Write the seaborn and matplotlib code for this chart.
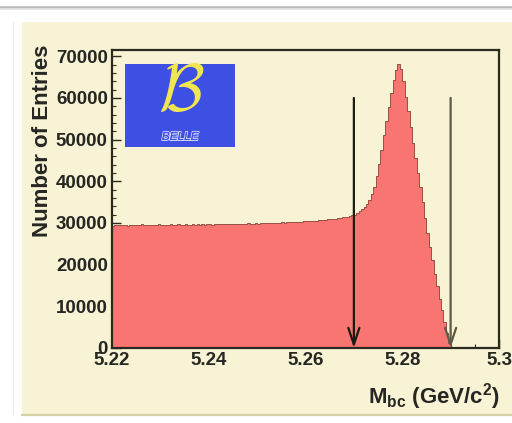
import numpy as np
import pandas as pd
import matplotlib
matplotlib.use("Agg")
import matplotlib.pyplot as plt
import seaborn as sns
from matplotlib.patches import Rectangle
from matplotlib.lines import Line2D
from matplotlib.ticker import FixedLocator, MultipleLocator
import matplotlib.patheffects as pe

# Beam-constrained mass histogram, 0.5 MeV bins from 5.220 to 5.300 GeV/c^2
mbc_low = 5.22
mbc_high = 5.30
entries = [
    # 5.2200 - 5.2250
    29300, 29550, 29400, 29600, 29450, 29500, 29350, 29550, 29600, 29450,
    # 5.2250 - 5.2300
    29500, 29400, 29650, 29500, 29550, 29400, 29600, 29500, 29450, 29650,
    # 5.2300 - 5.2350
    29550, 29500, 29600, 29450, 29700, 29550, 29500, 29650, 29600, 29550,
    # 5.2350 - 5.2400
    29650, 29500, 29600, 29700, 29550, 29650, 29600, 29750, 29600, 29650,
    # 5.2400 - 5.2450
    29700, 29600, 29750, 29650, 29700, 29800, 29650, 29700, 29750, 29700,
    # 5.2450 - 5.2500
    29800, 29700, 29750, 29850, 29750, 29800, 29900, 29800, 29850, 29900,
    # 5.2500 - 5.2550
    29850, 29950, 29900, 30000, 29950, 30050, 30000, 30100, 30050, 30100,
    # 5.2550 - 5.2600
    30150, 30100, 30200, 30150, 30250, 30200, 30300, 30250, 30350, 30400,
    # 5.2600 - 5.2650
    30400, 30450, 30500, 30450, 30550, 30600, 30650, 30700, 30750, 30850,
    # 5.2650 - 5.2700
    30900, 31000, 31050, 31150, 31250, 31350, 31450, 31550, 31650, 31800,
    # 5.2700 - 5.2750
    31900, 32300, 32800, 33300, 33900, 34500, 35600, 37000, 38700, 41200,
    # 5.2750 - 5.2800
    44200, 47500, 51000, 54500, 57900, 61200, 64200, 66700, 68100, 67000,
    # 5.2800 - 5.2850
    64000, 60300, 56800, 53000, 49100, 45500, 42000, 38700, 35000, 31200,
    # 5.2850 - 5.2900
    27600, 24300, 21000, 17800, 14800, 11800, 9000, 6300, 3600, 1200,
    # 5.2900 - 5.3000
    0, 0, 0, 0, 0, 0, 0, 0, 0, 0,
    0, 0, 0, 0, 0, 0, 0, 0, 0, 0,
]

# Signal-region cut markers
cut_positions = [5.27, 5.29]
cut_colors = ["#1c1a14", "#5b5a48"]
arrow_top = 60000

xtick_values = [5.22, 5.24, 5.26, 5.28, 5.30]
xtick_labels = ["5.22", "5.24", "5.26", "5.28", "5.3"]
ytick_values = [0, 10000, 20000, 30000, 40000, 50000, 60000, 70000]
ytick_labels = ["0", "10000", "20000", "30000", "40000", "50000", "60000", "70000"]

sns.set_style("ticks")
plt.rcParams["font.family"] = ["Liberation Sans", "DejaVu Sans"]
plt.rcParams["font.weight"] = "bold"
plt.rcParams["mathtext.fontset"] = "custom"
plt.rcParams["mathtext.rm"] = "Liberation Sans:bold"
plt.rcParams["mathtext.it"] = "Liberation Sans:bold"
plt.rcParams["mathtext.bf"] = "Liberation Sans:bold"

panel = "#f8f3d5"
fill_color = "#f87571"
edge_color = "#8a4035"
frame_color = "#2a2a1e"
text_color = "#262622"

W, H = 512, 423
fig = plt.figure(figsize=(W / 100, H / 100), dpi=100)
fig.patch.set_facecolor("white")

# Canvas panel and its borders
fig.add_artist(Rectangle((22 / W, 1 - 414 / H), (512 - 22) / W, (414 - 22) / H,
                         transform=fig.transFigure, facecolor=panel,
                         edgecolor="none", zorder=-5))
fig.add_artist(Line2D([22 / W, 1], [1 - 415 / H] * 2, transform=fig.transFigure,
                      color="#d6d1a4", lw=1.6, zorder=-4))
fig.add_artist(Line2D([0, 1], [1 - 7 / H] * 2, transform=fig.transFigure,
                      color="#b8b8b8", lw=1.8, zorder=-4))
fig.add_artist(Line2D([0, 1], [1 - 9.5 / H] * 2, transform=fig.transFigure,
                      color="#e2e2e2", lw=1.2, zorder=-4))
fig.add_artist(Line2D([13 / W] * 2, [1 - 22 / H, 1 - 414 / H], transform=fig.transFigure,
                      color="#ebebeb", lw=0.8, zorder=-4))

ax_left, ax_right, ax_top, ax_bottom = 112, 499, 50, 348
ax = fig.add_axes([ax_left / W, 1 - ax_bottom / H,
                   (ax_right - ax_left) / W, (ax_bottom - ax_top) / H])
ax.set_facecolor(panel)

edges = np.linspace(mbc_low, mbc_high, len(entries) + 1)
centers = 0.5 * (edges[:-1] + edges[1:])
hist_df = pd.DataFrame({"mbc": centers, "entries": entries})

sns.histplot(data=hist_df, x="mbc", weights="entries", bins=edges.tolist(),
             element="step", fill=True, color=fill_color, alpha=1,
             edgecolor=edge_color, linewidth=0.6, ax=ax, zorder=2)

ax.set_xlim(mbc_low, mbc_high)
ax.set_ylim(0, 71500)
ax.set_xlabel("")
ax.set_ylabel("")

for side in ["left", "right", "top", "bottom"]:
    ax.spines[side].set_visible(True)
    ax.spines[side].set_color(frame_color)
    ax.spines[side].set_linewidth(1.6)
    ax.spines[side].set_zorder(5)

ax.xaxis.set_major_locator(FixedLocator(xtick_values))
ax.set_xticklabels(xtick_labels)
ax.yaxis.set_major_locator(FixedLocator(ytick_values))
ax.set_yticklabels(ytick_labels)
ax.xaxis.set_minor_locator(MultipleLocator(0.005))
ax.yaxis.set_minor_locator(MultipleLocator(2000))
ax.tick_params(which="both", direction="in", color=frame_color,
               left=True, bottom=True, right=False, top=False)
ax.tick_params(which="major", length=6.5, width=1.0, labelsize=13.5,
               labelcolor=text_color, pad=3)
ax.tick_params(which="minor", length=3.2, width=0.8)
for lab in ax.get_xticklabels() + ax.get_yticklabels():
    lab.set_fontweight("bold")

# Cut arrows
for xc, col in zip(cut_positions, cut_colors):
    ax.annotate("", xy=(xc, 0), xytext=(xc, arrow_top),
                arrowprops=dict(arrowstyle="->,head_length=1.2,head_width=0.4",
                                color=col, lw=1.6, shrinkA=0, shrinkB=0),
                zorder=6)

# Experiment logo
ax.add_patch(Rectangle((0.034, 0.6745), 0.284, 0.2785, transform=ax.transAxes,
                       facecolor="#3e4fe4", edgecolor="none", zorder=4))
ax.text(0.178, 0.852, r"$\mathcal{B}$", transform=ax.transAxes,
        math_fontfamily="cm", fontsize=48, color="#f1e650",
        ha="center", va="center", zorder=5)
ax.text(0.176, 0.708, "BELLE", transform=ax.transAxes, fontsize=8.5,
        style="italic", fontweight="normal", color="#3e4fe4",
        ha="center", va="center", zorder=5,
        path_effects=[pe.withStroke(linewidth=1.4, foreground="#d4d6f6"),
                      pe.Normal()])

fig.text(43 / W, 1 - 141 / H, "Number of Entries", rotation=90,
         ha="center", va="center", fontsize=16, fontweight="bold",
         color=text_color)
fig.text(500 / W, 1 - 403 / H, r"M$_{\mathrm{bc}}$ (GeV/c$^{\mathrm{2}}$)",
         ha="right", va="baseline", fontsize=16, fontweight="bold",
         color=text_color)

fig.savefig("out.png", dpi=100, facecolor=fig.get_facecolor())
